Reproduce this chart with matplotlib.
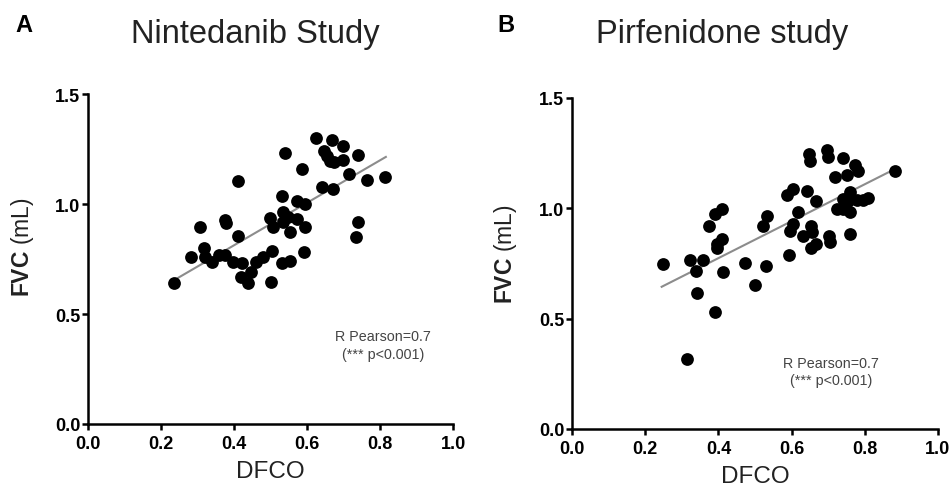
import matplotlib
matplotlib.use("Agg")
import matplotlib.pyplot as plt
import numpy as np

plt.rcParams['font.family'] = ['Liberation Sans', 'DejaVu Sans']
plt.rcParams['mathtext.fontset'] = 'custom'
plt.rcParams['mathtext.rm'] = 'Liberation Sans'
plt.rcParams['mathtext.bf'] = 'Liberation Sans:bold'

# ---------------- data ----------------
nin_dfco = [0.236, 0.282, 0.307, 0.319, 0.321, 0.339, 0.360, 0.375, 0.375, 0.378,
            0.410, 0.412, 0.398, 0.421, 0.418, 0.437, 0.447, 0.460, 0.480, 0.503,
            0.500, 0.499, 0.506, 0.531, 0.540, 0.533, 0.535, 0.549, 0.553, 0.531,
            0.553, 0.572, 0.572, 0.595, 0.595, 0.592, 0.585, 0.626, 0.640, 0.647,
            0.654, 0.668, 0.670, 0.663, 0.674, 0.698, 0.698, 0.716, 0.741, 0.741,
            0.733, 0.765, 0.815]
nin_fvc = [0.640, 0.758, 0.897, 0.800, 0.760, 0.738, 0.768, 0.768, 0.929, 0.914,
           1.103, 0.856, 0.735, 0.732, 0.667, 0.641, 0.692, 0.738, 0.758, 0.788,
           0.647, 0.935, 0.894, 1.035, 1.230, 0.962, 0.917, 0.939, 0.874, 0.732,
           0.742, 1.015, 0.932, 1.000, 0.894, 0.783, 1.159, 1.300, 1.076, 1.242,
           1.220, 1.292, 1.068, 1.197, 1.189, 1.265, 1.201, 1.136, 1.223, 0.917,
           0.849, 1.110, 1.123]

pir_dfco = [0.248, 0.322, 0.339, 0.357, 0.341, 0.392, 0.313, 0.375, 0.391, 0.409,
            0.395, 0.411, 0.397, 0.412, 0.473, 0.500, 0.530, 0.523, 0.534, 0.593,
            0.587, 0.605, 0.596, 0.603, 0.618, 0.641, 0.630, 0.652, 0.655, 0.652,
            0.667, 0.668, 0.648, 0.650, 0.698, 0.700, 0.703, 0.705, 0.719, 0.741,
            0.751, 0.773, 0.782, 0.760, 0.740, 0.723, 0.741, 0.755, 0.760, 0.760,
            0.778, 0.794, 0.810, 0.883]
pir_fvc = [0.747, 0.766, 0.716, 0.766, 0.614, 0.528, 0.317, 0.920, 0.973, 0.995,
           0.837, 0.860, 0.818, 0.712, 0.750, 0.652, 0.736, 0.920, 0.962, 0.787,
           1.059, 1.086, 0.897, 0.928, 0.983, 1.078, 0.875, 0.920, 0.890, 0.818,
           0.837, 1.033, 1.244, 1.211, 1.264, 1.230, 0.875, 0.845, 1.139, 1.225,
           1.149, 1.195, 1.169, 1.071, 1.041, 0.995, 0.995, 1.033, 0.980, 0.882,
           1.038, 1.038, 1.045, 1.169]

# regression line end points (x range)
nin_fit_x = [0.241, 0.816]
pir_fit_x = [0.245, 0.878]

titles = ["Nintedanib Study", "Pirfenidone study"]
letters = ["A", "B"]
xticks = [0.0, 0.2, 0.4, 0.6, 0.8, 1.0]
yticks = [0.0, 0.5, 1.0, 1.5]
annot = "R Pearson=0.7\n(*** p<0.001)"

W, H = 952, 489
fig = plt.figure(figsize=(W / 100, H / 100), dpi=100)

def px_axes(x0, x1, y_top, y_bot):
    return fig.add_axes([x0 / W, 1 - y_bot / H, (x1 - x0) / W, (y_bot - y_top) / H])

axA = px_axes(88, 453, 95, 425)
axB = px_axes(572, 938, 98.5, 430)

panels = [
    (axA, nin_dfco, nin_fvc, nin_fit_x, (255, 35), (15, 26), (0.808, 0.239), (-0.143, 0.54)),
    (axB, pir_dfco, pir_fvc, pir_fit_x, (722, 35), (497, 26), (0.707, 0.173), (-0.145, 0.53)),
]

for i, (ax, xs, ys, fx, tpos, lpos, apos, ylab) in enumerate(panels):
    xs = np.array(xs); ys = np.array(ys)
    slope, icpt = np.polyfit(xs, ys, 1)
    fxa = np.array(fx)
    ax.plot(fxa, slope * fxa + icpt, color='#8c8c8c', lw=1.5, zorder=2)
    ax.plot(xs, ys, 'o', color='black', ms=9.2, mec='black', mew=0, zorder=3, clip_on=False)
    ax.set_xlim(0, 1.0)
    ax.set_ylim(0, 1.5)
    ax.set_xticks(xticks)
    ax.set_yticks(yticks)
    ax.set_xticklabels([f"{v:.1f}" for v in xticks], fontweight='bold', fontsize=13)
    ax.set_yticklabels([f"{v:.1f}" for v in yticks], fontweight='bold', fontsize=13)
    for s in ['top', 'right']:
        ax.spines[s].set_visible(False)
    for s in ['left', 'bottom']:
        ax.spines[s].set_linewidth(1.8)
    ax.tick_params(direction='out', length=4.5, width=1.8)
    ax.tick_params(axis='x', pad=3.5)
    ax.tick_params(axis='y', pad=1)
    ax.set_xlabel("DFCO", fontsize=17.5, color='#222222', labelpad=6)
    ax.set_ylabel(r"$\mathbf{FVC}$ (mL)", fontsize=16.5, color='#222222')
    ax.yaxis.set_label_coords(*ylab)
    ax.text(apos[0], apos[1], annot, transform=ax.transAxes, ha='center', va='center',
            fontsize=10.3, color='#444444', linespacing=1.3)
    fig.text(tpos[0] / W, 1 - tpos[1] / H, titles[i], ha='center', va='center',
             fontsize=23.5, color='#222222')
    fig.text(lpos[0] / W, 1 - lpos[1] / H, letters[i], ha='left', va='center',
             fontsize=17, fontweight='bold')

fig.savefig("out.png", dpi=100)
